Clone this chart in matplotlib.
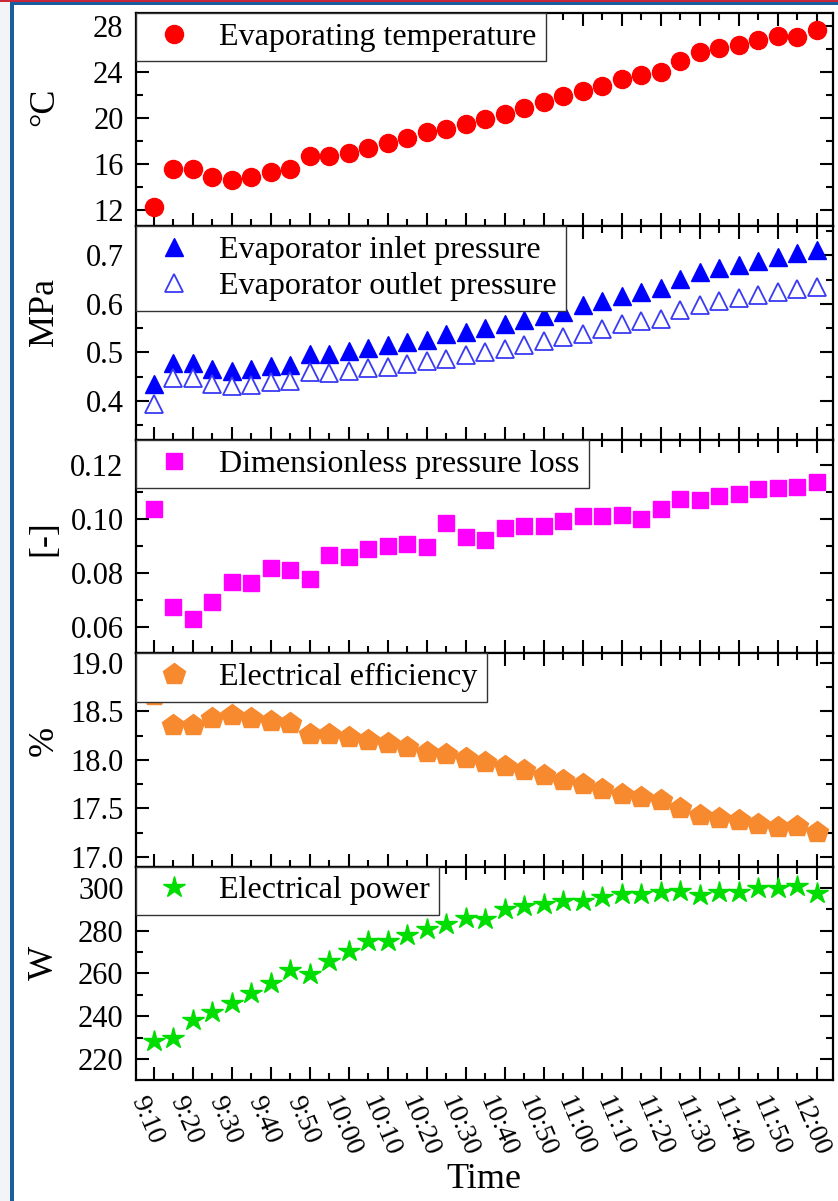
import numpy as np
import matplotlib.pyplot as plt
from matplotlib.patches import Rectangle
from matplotlib.ticker import MultipleLocator, FormatStrFormatter
from matplotlib.transforms import ScaledTranslation

times = ['9:10', '9:15', '9:20', '9:25', '9:30', '9:35', '9:40', '9:45', '9:50', '9:55',
         '10:00', '10:05', '10:10', '10:15', '10:20', '10:25', '10:30', '10:35', '10:40', '10:45',
         '10:50', '10:55', '11:00', '11:05', '11:10', '11:15', '11:20', '11:25', '11:30', '11:35',
         '11:40', '11:45', '11:50', '11:55', '12:00']

evap_temp = [12.3, 15.6, 15.6, 14.9, 14.6, 14.9, 15.3, 15.6, 16.7, 16.7,
             17.0, 17.4, 17.8, 18.25, 18.8, 19.0, 19.5, 19.9, 20.3, 20.85,
             21.4, 21.9, 22.3, 22.8, 23.4, 23.7, 24.0, 24.9, 25.7, 26.1,
             26.3, 26.8, 27.1, 27.0, 27.6]

inlet_p = [0.435, 0.478, 0.478, 0.466, 0.462, 0.466, 0.473, 0.474, 0.497, 0.497,
           0.502, 0.510, 0.515, 0.521, 0.526, 0.538, 0.543, 0.550, 0.558, 0.566,
           0.575, 0.583, 0.597, 0.606, 0.617, 0.624, 0.632, 0.652, 0.665, 0.675,
           0.681, 0.689, 0.697, 0.705, 0.712]

outlet_p = [0.394, 0.447, 0.447, 0.435, 0.430, 0.432, 0.439, 0.441, 0.460, 0.458,
            0.462, 0.468, 0.471, 0.477, 0.483, 0.487, 0.495, 0.501, 0.508, 0.515,
            0.524, 0.532, 0.539, 0.548, 0.558, 0.564, 0.570, 0.587, 0.598, 0.606,
            0.612, 0.619, 0.624, 0.631, 0.636]

dp_loss = [0.104, 0.0674, 0.063, 0.0695, 0.0769, 0.0764, 0.0819, 0.0812, 0.078, 0.0869,
           0.0861, 0.089, 0.0902, 0.0909, 0.0896, 0.0986, 0.0934, 0.0924, 0.0968, 0.0974,
           0.0974, 0.0993, 0.1013, 0.1013, 0.1015, 0.1003, 0.104, 0.1075, 0.107, 0.1087,
           0.1094, 0.1113, 0.1118, 0.1121, 0.1137]

efficiency = [18.67, 18.36, 18.36, 18.43, 18.46, 18.43, 18.40, 18.38, 18.27, 18.27,
              18.24, 18.20, 18.17, 18.13, 18.08, 18.06, 18.02, 17.98, 17.94, 17.90,
              17.84, 17.79, 17.75, 17.70, 17.65, 17.62, 17.59, 17.50, 17.43, 17.40,
              17.38, 17.34, 17.31, 17.32, 17.26]

power = [228.6, 230.1, 238.4, 242.0, 246.4, 251.1, 255.5, 261.7, 259.7, 265.9,
         270.3, 275.0, 275.0, 277.8, 280.7, 283.0, 286.1, 285.5, 290.0, 291.4,
         292.3, 293.9, 293.9, 295.5, 296.9, 297.3, 298.1, 298.4, 296.5, 298.1,
         298.1, 299.8, 299.8, 300.7, 297.6]


def minutes(t):
    h, m = t.split(':')
    return int(h) * 60 + int(m) - 550


x = np.array([minutes(t) for t in times])

plt.rcParams['font.family'] = ['Liberation Serif', 'DejaVu Serif']
plt.rcParams['axes.linewidth'] = 1.6

fig, axes = plt.subplots(5, 1, figsize=(8.38, 12.01), dpi=100, sharex=True)
fig.subplots_adjust(left=0.1623, right=0.9935, top=0.9892, bottom=0.1008, hspace=0)

ax1, ax2, ax3, ax4, ax5 = axes

ax1.plot(x, evap_temp, ls='none', marker='o', ms=13, color='#FF0000',
         label='Evaporating temperature')
ax2.plot(x, inlet_p, ls='none', marker='^', ms=13, color='#0000FF',
         label='Evaporator inlet pressure')
ax2.plot(x, outlet_p, ls='none', marker='^', ms=13, mfc='white', mec='#3A3AF5', mew=1.3,
         label='Evaporator outlet pressure')
ax3.plot(x, dp_loss, ls='none', marker='s', ms=11, color='#FF00FF',
         label='Dimensionless pressure loss')
ax4.plot(x, efficiency, ls='none', marker='p', ms=16, color='#F7892F',
         label='Electrical efficiency')
ax5.plot(x, power, ls='none', marker='*', ms=16, color='#00DD00',
         label='Electrical power')

settings = [
    (ax1, '°C', (10.6, 29.1), 4, 2, '%d', 0.56),
    (ax2, 'MPa', (0.32, 0.76), 0.1, 0.05, '%.1f', 0.60),
    (ax3, '[-]', (0.0504, 0.1295), 0.02, 0.01, '%.2f', 0.54),
    (ax4, '%', (16.9, 19.1), 0.5, 0.25, '%.1f', 0.59),
    (ax5, 'W', (210.3, 309.9), 20, 10, '%d', 0.55),
]

for ax, unit, lim, major, minor, fmt, ylab in settings:
    ax.set_ylim(*lim)
    ax.yaxis.set_major_locator(MultipleLocator(major))
    ax.yaxis.set_minor_locator(MultipleLocator(minor))
    ax.yaxis.set_major_formatter(FormatStrFormatter(fmt))
    ax.set_xlim(-4.6, 174)
    ax.xaxis.set_major_locator(MultipleLocator(10))
    ax.xaxis.set_minor_locator(MultipleLocator(5))
    ax.tick_params(which='both', direction='in', top=True, right=True, width=1.5,
                   labelsize=22, pad=9)
    ax.tick_params(which='major', length=9.5)
    ax.tick_params(which='minor', length=5)
    ax.set_ylabel(unit, fontsize=26)
    ax.yaxis.set_label_coords(-0.108, ylab)
    leg = ax.legend(loc='upper left', borderaxespad=0, fancybox=False, framealpha=1,
                    edgecolor='#333333', fontsize=23, handlelength=1.8, handletextpad=0.5,
                    borderpad=0.3, labelspacing=0.2)
    leg.get_frame().set_linewidth(1.0)

ax5.set_xticks(x[::2], labels=times[::2])
ax5.tick_params(axis='x', which='major', rotation=-67, labelsize=20, pad=9)
shift = ScaledTranslation(-7 / 100, 0, fig.dpi_scale_trans)
for lbl in ax5.get_xticklabels():
    lbl.set_transform(lbl.get_transform() + shift)
ax5.set_xlabel('Time', fontsize=26, labelpad=2)

# screenshot frame
W, H = 838, 1201
fig.add_artist(Rectangle((0, 0), 10 / W, 1, transform=fig.transFigure,
                         facecolor='#F3F4F7', edgecolor='none'))
fig.add_artist(Rectangle((10 / W, 0), 4 / W, 1 - 2 / H, transform=fig.transFigure,
                         facecolor='#1B5E9E', edgecolor='none'))
fig.add_artist(Rectangle((10 / W, 1 - 5 / H), 1, 3 / H, transform=fig.transFigure,
                         facecolor='#1B5E9E', edgecolor='none'))
fig.add_artist(Rectangle((0, 1 - 1.6 / H), 1, 1.6 / H, transform=fig.transFigure,
                         facecolor='#C8283A', edgecolor='none'))

fig.savefig('out.png', dpi=100)
